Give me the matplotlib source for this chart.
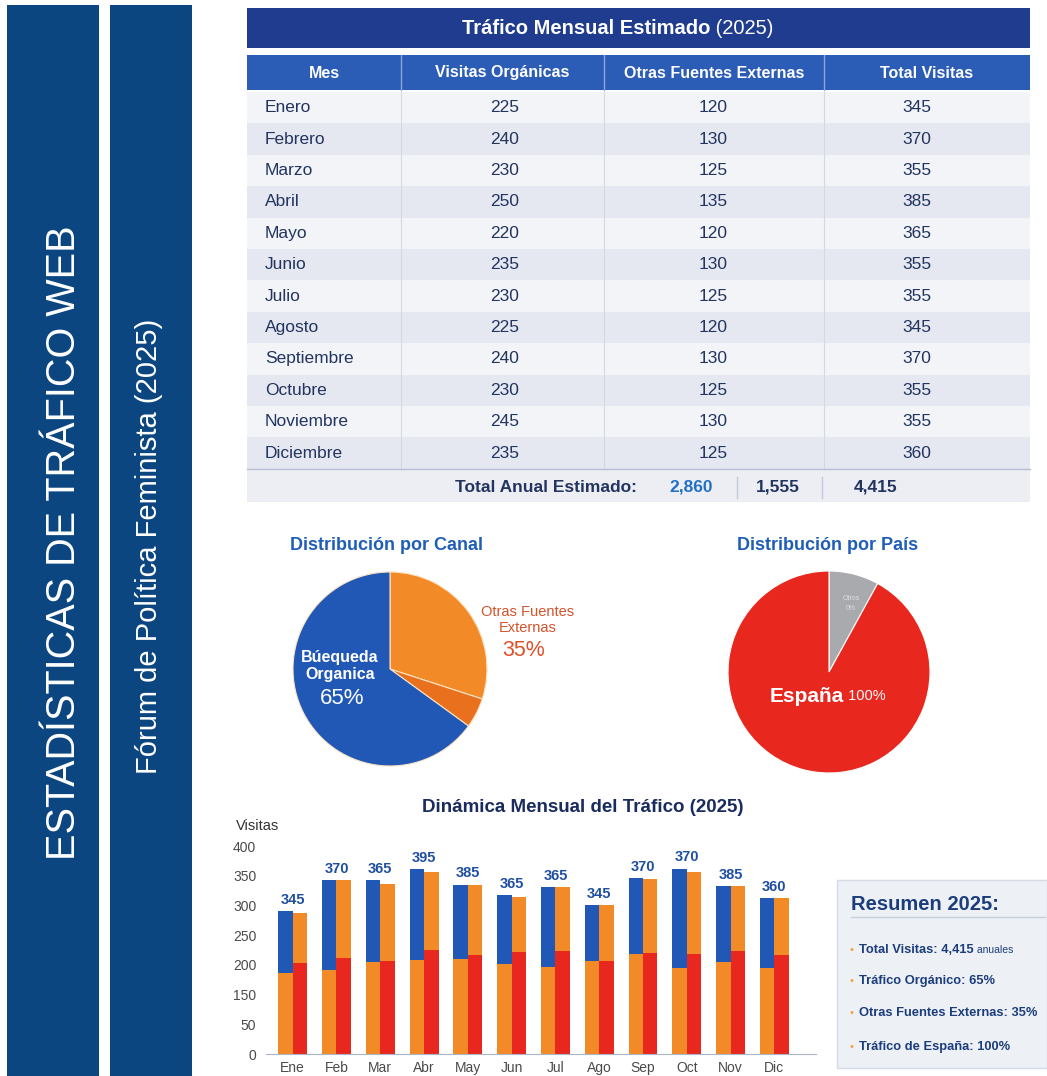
import numpy as np
import matplotlib
matplotlib.use("Agg")
import matplotlib.pyplot as plt
from matplotlib.patches import Rectangle

W, H = 1047, 1076
plt.rcParams['font.family'] = ['Liberation Sans', 'DejaVu Sans']

# ---- datos de la tabla
columnas = ['Mes', 'Visitas Orgánicas', 'Otras Fuentes Externas', 'Total Visitas']
meses = ['Enero', 'Febrero', 'Marzo', 'Abril', 'Mayo', 'Junio', 'Julio',
         'Agosto', 'Septiembre', 'Octubre', 'Noviembre', 'Diciembre']
organicas = [225, 240, 230, 250, 220, 235, 230, 225, 240, 230, 245, 235]
externas = [120, 130, 125, 135, 120, 130, 125, 120, 130, 125, 130, 125]
totales = [345, 370, 355, 385, 365, 355, 355, 345, 370, 355, 355, 360]
total_anual = ['2,860', '1,555', '4,415']

# ---- tartas
canal_valores = [30, 5, 65]      # naranja claro, naranja oscuro, azul
pais_valores = [8, 92]           # otros, España

# ---- barras (leidas sobre el eje tal como esta rotulado)
meses_cortos = ['Ene', 'Feb', 'Mar', 'Abr', 'May', 'Jun', 'Jul', 'Ago',
                'Sep', 'Oct', 'Nov', 'Dic']
etiquetas_barra = [345, 370, 365, 395, 385, 365, 365, 345, 370, 370, 385, 360]
izq_base = [187, 191, 205, 208, 210, 202, 196, 206, 218, 194, 205, 194]
izq_total = [291, 343, 343, 361, 335, 317, 331, 301, 346, 362, 333, 312]
der_base = [203, 212, 207, 225, 217, 222, 223, 207, 220, 219, 223, 217]
der_total = [287, 343, 336, 357, 335, 315, 331, 301, 344, 357, 333, 313]
eje_y = [0, 50, 150, 200, 250, 300, 350, 400]

resumen = [('Total Visitas: 4,415', ' anuales'),
           ('Tráfico Orgánico: 65%', ''),
           ('Otras Fuentes Externas: 35%', ''),
           ('Tráfico de España: 100%', '')]

# colores
SIDE = '#0b4680'
TITLE_BAR = '#1f3c8f'
HEADER = '#2b5cb6'
BLUE = '#2158b6'
ORANGE = '#f28b27'
DARK_ORANGE = '#e9711d'
RED = '#e8271f'
GREY = '#a9aaae'
TXT = '#22345f'
NAVY = '#1b3d7c'

fig = plt.figure(figsize=(W / 100, H / 100), dpi=100)
fig.patch.set_facecolor('white')

ax_bg = fig.add_axes([0, 0, 1, 1], zorder=0)
ax_txt = fig.add_axes([0, 0, 1, 1], zorder=10)
for a in (ax_bg, ax_txt):
    a.set_xlim(0, W)
    a.set_ylim(H, 0)
    a.axis('off')
ax_txt.patch.set_alpha(0)


def rect(x0, y0, x1, y1, color, **kw):
    ax_bg.add_patch(Rectangle((x0, y0), x1 - x0, y1 - y0, facecolor=color,
                              edgecolor=kw.pop('edgecolor', 'none'), **kw))


def px_axes(left, top, right, bottom):
    return fig.add_axes([left / W, 1 - bottom / H, (right - left) / W, (bottom - top) / H])


renderer = fig.canvas.get_renderer()


def text_parts(x, y, parts, center=False):
    # varios trozos con estilos distintos en una misma linea
    items = []
    for s, kw in parts:
        t = ax_txt.text(0, y, s, ha='left', va='center', **kw)
        items.append(t)
    widths = [t.get_window_extent(renderer).width for t in items]
    start = x - sum(widths) / 2 if center else x
    for t, w in zip(items, widths):
        t.set_x(start)
        start += w


# ---- barras laterales
rect(7, 5, 99, H, SIDE)
rect(110, 5, 192, H, SIDE)
ax_txt.text(64, 543, 'ESTADÍSTICAS DE TRÁFICO WEB', rotation=90, ha='center',
            va='center', color='white', fontsize=28.5)
ax_txt.text(149, 546, 'Fórum de Política Feminista (2025)', rotation=90,
            ha='center', va='center', color='white', fontsize=21)

# ---- tabla
rect(247, 8, 1030, 48, TITLE_BAR)
text_parts(618, 29, [('Tráfico Mensual Estimado', dict(fontsize=14.5, fontweight='bold', color='white')),
                     (' (2025)', dict(fontsize=14.5, color='white'))], center=True)

col_edges = [247, 401, 604, 824, 1030]
rect(247, 55, 1030, 90, HEADER)
for x in col_edges[1:-1]:
    ax_bg.plot([x, x], [55, 90], color='#8fa8da', lw=1)
for i, c in enumerate(columnas):
    xc = (col_edges[i] + col_edges[i + 1]) / 2
    ax_txt.text(xc, 73, c, ha='center', va='center', color='white',
                fontsize=11.5, fontweight='bold')

row_top, row_h = 92, 31.4
for i, mes in enumerate(meses):
    y0 = row_top + i * row_h
    rect(247, y0, 1030, y0 + row_h, '#f3f4f8' if i % 2 == 0 else '#e5e8f0')
    yc = y0 + row_h / 2
    ax_txt.text(265, yc, mes, ha='left', va='center', fontsize=12.5, color=TXT)
    for xc, v in zip([505, 713, 917], [organicas[i], externas[i], totales[i]]):
        ax_txt.text(xc, yc, str(v), ha='center', va='center', fontsize=12.5, color=TXT)
row_end = row_top + len(meses) * row_h
for x in col_edges[1:-1]:
    ax_bg.plot([x, x], [92, row_end], color='#d3d8e2', lw=0.8)

rect(247, row_end, 1030, 502, '#eceef4')
ax_bg.plot([247, 1030], [row_end, row_end], color='#b5bfd2', lw=1)
ax_txt.text(637, 487, 'Total Anual Estimado:', ha='right', va='center',
            fontsize=12.5, fontweight='bold', color=TXT)
for xc, s, col in zip([691, 778, 876], total_anual, ['#2270c4', TXT, TXT]):
    ax_txt.text(xc, 487, s, ha='center', va='center', fontsize=12.5,
                fontweight='bold', color=col)
for x in [737, 822]:
    ax_bg.plot([x, x], [477, 498], color='#c3cad8', lw=1)

# ---- tartas
ax_txt.text(386, 546, 'Distribución por Canal', ha='center', va='center',
            fontsize=13, fontweight='bold', color='#1f5eb8')
ax_txt.text(828, 546, 'Distribución por País', ha='center', va='center',
            fontsize=13, fontweight='bold', color='#1f5eb8')

cx, cy, r = 390, 669, 97
ax_p1 = px_axes(cx - r, cy - r, cx + r, cy + r)
ax_p1.pie(canal_valores, colors=[ORANGE, DARK_ORANGE, BLUE], startangle=90,
          counterclock=False, radius=1, wedgeprops=dict(edgecolor='#fbe3c4', linewidth=0.8))
ax_p1.set_xlim(-1, 1)
ax_p1.set_ylim(-1, 1)
ax_p1.axis('off')

ax_txt.text(340, 666, 'Búequeda\nOrganica', ha='center', va='center', color='white',
            fontsize=11.5, fontweight='bold', linespacing=1.2)
ax_txt.text(342, 698, '65%', ha='center', va='center', color='white', fontsize=16)
ax_txt.text(528, 620, 'Otras Fuentes\nExternas', ha='center', va='center',
            color='#d4532b', fontsize=10.5, linespacing=1.2)
ax_txt.text(524, 650, '35%', ha='center', va='center', color='#e0502a', fontsize=15.5)

cx, cy, r = 829, 672, 101
ax_p2 = px_axes(cx - r, cy - r, cx + r, cy + r)
ax_p2.pie(pais_valores, colors=[GREY, RED], startangle=90, counterclock=False,
          radius=1, wedgeprops=dict(edgecolor='white', linewidth=0.8))
ax_p2.set_xlim(-1, 1)
ax_p2.set_ylim(-1, 1)
ax_p2.axis('off')
ax_txt.text(851, 603, 'Otros\n0%', ha='center', va='center', color='#dedede',
            fontsize=5, linespacing=1.6)
text_parts(828, 696, [('España', dict(fontsize=15, fontweight='bold', color='white')),
                      (' 100%', dict(fontsize=10.5, color='white'))], center=True)

# ---- barras mensuales
ax_txt.text(583, 808, 'Dinámica Mensual del Tráfico (2025)', ha='center', va='center',
            fontsize=13.5, fontweight='bold', color='#1a2b5f')
ax_txt.text(236, 826, 'Visitas', ha='left', va='center', fontsize=10.5, color='#333333')

ax = px_axes(266, 846, 815.5, 1054)
pos = np.arange(len(eje_y))
ax.set_yscale('function', functions=(lambda v: np.interp(v, eje_y, pos),
                                     lambda p: np.interp(p, pos, eje_y)))
x = np.arange(len(meses_cortos))
w = 0.33
izq_base = np.array(izq_base)
der_base = np.array(der_base)
ax.bar(x - w / 2, izq_base, w, color=ORANGE)
ax.bar(x - w / 2, np.array(izq_total) - izq_base, w, bottom=izq_base, color=BLUE)
ax.bar(x + w / 2, der_base, w, color=RED)
ax.bar(x + w / 2, np.array(der_total) - der_base, w, bottom=der_base, color=ORANGE)
for i, lab in enumerate(etiquetas_barra):
    top = max(izq_total[i], der_total[i])
    ax.annotate(str(lab), (x[i], top), xytext=(0, 3), textcoords='offset points',
                ha='center', va='bottom', fontsize=10.5, fontweight='bold',
                color='#1f4fa0', annotation_clip=False)
ax.set_ylim(0, 400)
ax.set_xlim(-0.61, 11.94)
ax.set_yticks(eje_y)
ax.set_yticklabels([str(v) for v in eje_y])
ax.set_xticks(x)
ax.set_xticklabels(meses_cortos)
ax.tick_params(axis='both', length=0, labelsize=10, colors='#4a4a4a')
ax.tick_params(axis='y', pad=7)
ax.tick_params(axis='x', pad=5)
for s in ['top', 'right', 'left']:
    ax.spines[s].set_visible(False)
ax.spines['bottom'].set_color('#a9b6c8')
ax.patch.set_alpha(0)

# ---- resumen
rect(837, 880, 1047, 1068, '#edf0f5', edgecolor='#d5dbe5', lw=1)
ax_txt.text(851, 904, 'Resumen 2025:', ha='left', va='center', fontsize=14.5,
            fontweight='bold', color=NAVY)
ax_bg.plot([851, 1045], [917, 917], color='#c5cfdf', lw=1)
for yy, (bold, rest) in zip([950, 981, 1013, 1047], resumen):
    ax_txt.text(852, yy, '•', ha='center', va='center', fontsize=8, color='#f5a040')
    parts = [(bold, dict(fontsize=9.3, fontweight='bold', color=NAVY))]
    if rest:
        parts.append((rest, dict(fontsize=7.5, color=NAVY)))
    text_parts(859, yy, parts)

fig.savefig('out.png', dpi=100, facecolor='white')
